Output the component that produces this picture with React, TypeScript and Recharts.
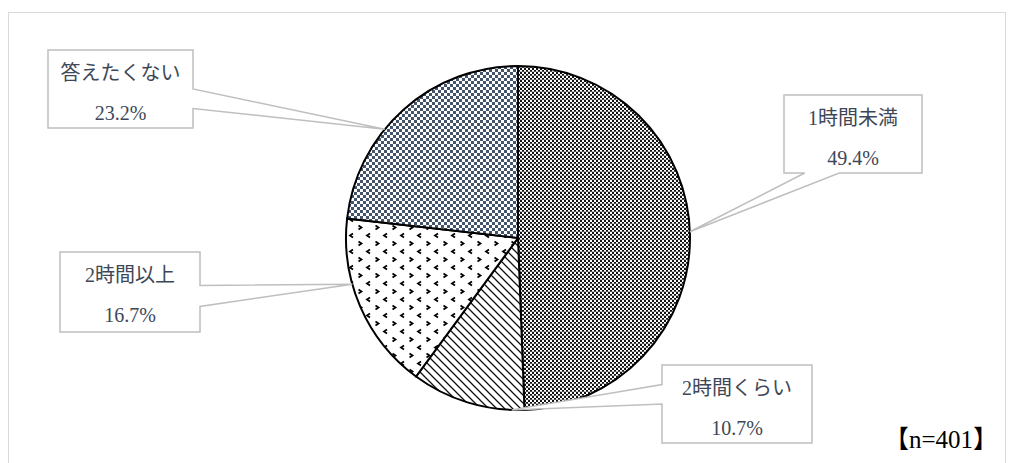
import { PieChart, Pie, Cell } from 'recharts';

const categories = ['1時間未満', '2時間くらい', '2時間以上', '答えたくない'];
const shares = [49.4, 10.7, 16.7, 23.2];
const sampleNote = '【n=401】';

// pattern ids per slice, same order as categories
const FILLS = ['url(#pCheckDark)', 'url(#pDiag)', 'url(#pMarks)', 'url(#pCheckBlue)'];

// callout boxes (page coords) + where the wedge sits
const CALLOUTS = [
  { x: 784, y: 95, w: 138, h: 78, edge: 'bottom', f1: 0.15, f2: 0.4, tipShift: -1 },
  { x: 662, y: 365, w: 150, h: 78, edge: 'left', f1: 0.25, f2: 0.5, tipShift: -15 },
  { x: 60, y: 252, w: 140, h: 80, edge: 'right', f1: 0.42, f2: 0.68, tipShift: 8 },
  { x: 48, y: 50, w: 145, h: 78, edge: 'right', f1: 0.5, f2: 0.75, tipShift: -9 },
];

const data = categories.map((name, i) => ({ name, value: shares[i] }));

const FONT = "'Liberation Serif', 'Noto Sans CJK JP', serif";
const TEXT = '#3E4757';

function calloutPath(c: any, tx: number, ty: number) {
  const { x, y, w, h, edge, f1, f2 } = c;
  const pts: number[][] = [[x, y]];
  if (edge === 'top') pts.push([x + f1 * w, y], [tx, ty], [x + f2 * w, y]);
  pts.push([x + w, y]);
  if (edge === 'right') pts.push([x + w, y + f1 * h], [tx, ty], [x + w, y + f2 * h]);
  pts.push([x + w, y + h]);
  if (edge === 'bottom') pts.push([x + f2 * w, y + h], [tx, ty], [x + f1 * w, y + h]);
  pts.push([x, y + h]);
  if (edge === 'left') pts.push([x, y + f2 * h], [tx, ty], [x, y + f1 * h]);
  return 'M' + pts.map((p) => `${p[0]},${p[1]}`).join('L') + 'Z';
}

const renderCallout = (props: any) => {
  const { cx, cy, midAngle, outerRadius, index } = props;
  const c = CALLOUTS[index];
  const clock = 90 - midAngle + c.tipShift;
  const rad = (clock * Math.PI) / 180;
  const tx = cx + outerRadius * Math.sin(rad);
  const ty = cy - outerRadius * Math.cos(rad);
  const mx = c.x + c.w / 2;
  return (
    <g key={`co-${index}`}>
      <path d={calloutPath(c, tx, ty)} fill="#fff" stroke="#BFBFBF" strokeWidth={1.5} />
      <text x={mx} y={c.y + 30} textAnchor="middle" fontSize={20} fontFamily={FONT} fill={TEXT}>
        {categories[index]}
      </text>
      <text x={mx} y={c.y + 70} textAnchor="middle" fontSize={20} fontFamily={FONT} fill={TEXT}>
        {shares[index].toFixed(1)}%
      </text>
    </g>
  );
};

export default function App() {
  return (
    <div style={{ position: 'fixed', left: 0, top: 0, width: 1015, height: 463, overflow: 'hidden', background: '#fff' }}>
      <svg width={0} height={0} style={{ position: 'absolute' }}>
        <defs>
          <pattern id="pCheckDark" width={4} height={4} patternUnits="userSpaceOnUse">
            <rect width={4} height={4} fill="#fff" />
            <rect x={0} y={0} width={2} height={2} fill="#111" />
            <rect x={2} y={2} width={2} height={2} fill="#111" />
            <rect x={0} y={3.5} width={4} height={0.5} fill="#888" />
          </pattern>
          <pattern id="pDiag" width={8} height={8} patternUnits="userSpaceOnUse">
            <rect width={8} height={8} fill="#fff" />
            <path d="M-2,-2 L10,10 M-2,6 L2,10 M6,-2 L10,2" stroke="#111" strokeWidth={1.3} />
          </pattern>
          <pattern id="pMarks" width={17} height={16} patternUnits="userSpaceOnUse">
            <rect width={17} height={16} fill="#fff" />
            <path d="M1.5,1.5 L4.5,3.5 L1.5,5.5" stroke="#000" strokeWidth={1.8} fill="none" />
            <path d="M13,9.5 L10,11.5 L13,13.5" stroke="#000" strokeWidth={1.8} fill="none" />
          </pattern>
          <pattern id="pCheckBlue" width={6} height={6} patternUnits="userSpaceOnUse">
            <rect width={6} height={6} fill="#fff" />
            <rect x={0} y={0} width={3} height={3} fill="#44546A" />
            <rect x={3} y={3} width={3} height={3} fill="#44546A" />
          </pattern>
        </defs>
      </svg>
      <div
        style={{
          position: 'absolute',
          left: 8,
          top: 12,
          width: 998,
          height: 470,
          border: '1.5px solid #D9D9D9',
          boxSizing: 'border-box',
        }}
      />
      <div style={{ position: 'absolute', left: 0, top: 0 }}>
        <PieChart width={1015} height={463} margin={{ top: 0, right: 0, bottom: 0, left: 0 }}>
          <Pie
            data={data}
            dataKey="value"
            nameKey="name"
            cx={518}
            cy={238}
            outerRadius={172}
            startAngle={90}
            endAngle={-270}
            stroke="#000"
            strokeWidth={2}
            label={renderCallout}
            labelLine={false}
            isAnimationActive={false}
          >
            {data.map((d, i) => (
              <Cell key={d.name} fill={FILLS[i]} />
            ))}
          </Pie>
        </PieChart>
      </div>
      <div
        style={{
          position: 'absolute',
          left: 884,
          top: 419,
          fontSize: 25,
          fontFamily: FONT,
          color: '#000',
          whiteSpace: 'nowrap',
        }}
      >
        {sampleNote}
      </div>
    </div>
  );
}
